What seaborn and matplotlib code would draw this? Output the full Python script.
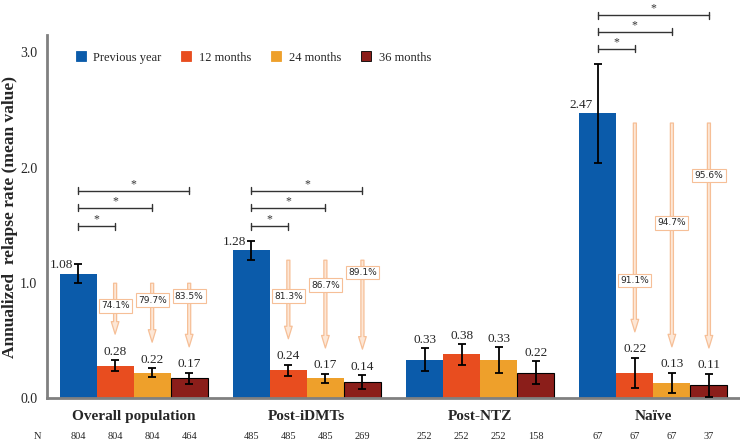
import numpy as np
import pandas as pd
import matplotlib
matplotlib.use("Agg")
import matplotlib.pyplot as plt
import seaborn as sns
from matplotlib.lines import Line2D

# ---------------- data ----------------
groups = ["Overall population", "Post-iDMTs", "Post-NTZ", "Naïve"]
periods = ["Previous year", "12 months", "24 months", "36 months"]
prev_year = [1.08, 1.28, 0.33, 2.47]
m12 = [0.28, 0.24, 0.38, 0.22]
m24 = [0.22, 0.17, 0.33, 0.13]
m36 = [0.17, 0.14, 0.22, 0.11]
err_prev = [0.08, 0.08, 0.10, 0.43]
err_12 = [0.05, 0.05, 0.09, 0.13]
err_24 = [0.04, 0.04, 0.11, 0.09]
err_36 = [0.05, 0.06, 0.10, 0.10]
n_prev = [804, 485, 252, 67]
n_12 = [804, 485, 252, 67]
n_24 = [804, 485, 252, 67]
n_36 = [464, 269, 158, 37]
reduction = {  # % reduction vs previous year (12, 24, 36 months)
    "Overall population": ["74.1%", "79.7%", "83.5%"],
    "Post-iDMTs": ["81.3%", "86.7%", "89.1%"],
    "Naïve": ["91.1%", "94.7%", "95.6%"],
}
sig_groups = ["Overall population", "Post-iDMTs", "Naïve"]

# ---------------- layout (not data) ----------------
label_y = {
    "Overall population": [0.80, 0.85, 0.885],
    "Post-iDMTs": [0.885, 0.98, 1.09],
    "Naïve": [1.02, 1.52, 1.93],
}
bracket_y = {
    "Overall population": [1.49, 1.65, 1.80],
    "Post-iDMTs": [1.49, 1.65, 1.80],
    "Naïve": [3.03, 3.18, 3.32],
}

colors = ["#0B5BAA", "#E84D1F", "#EEA02B", "#8B1E1A"]
serif = ["Liberation Serif", "DejaVu Serif"]

values = [prev_year, m12, m24, m36]
errs = [err_prev, err_12, err_24, err_36]
ns = [n_prev, n_12, n_24, n_36]

rows = []
for p, vals in zip(periods, values):
    for g, v in zip(groups, vals):
        rows.append({"group": g, "period": p, "value": v})
df = pd.DataFrame(rows)

sns.set_style("white")
plt.rcParams["font.family"] = serif

fig = plt.figure(figsize=(7.4, 4.43), dpi=100)
ax = fig.add_axes([47 / 740, 45 / 443, 693 / 740, 363 / 443])

sns.barplot(data=df, x="group", y="value", hue="period", order=groups,
            hue_order=periods, palette=colors, width=0.855, errorbar=None,
            saturation=1, ax=ax, legend=False, linewidth=0)

# edges: dark red bars have black edges
for bar in ax.containers[3]:
    bar.set_edgecolor("black")
    bar.set_linewidth(0.8)

ax.set_xlim(-0.5, 3.5)
ax.set_ylim(0, 3.15)

centers = [[b.get_x() + b.get_width() / 2 for b in c] for c in ax.containers]

# error bars & value labels
for k in range(4):
    for i, g in enumerate(groups):
        x = centers[k][i]
        v = values[k][i]
        e = errs[k][i]
        ax.errorbar(x, v, yerr=e, fmt="none", ecolor="black", elinewidth=1.3,
                    capsize=3, capthick=1.3, zorder=5)
        if k == 0 and g in sig_groups:
            ax.text(x - 0.03, v + 0.07, f"{v:.2f}", ha="right", va="center",
                    fontsize=9.5, family=serif)
        else:
            ax.text(x, v + e + 0.02, f"{v:.2f}", ha="center", va="bottom",
                    fontsize=9.5, family=serif)

# reduction arrows and labels
for i, g in enumerate(groups):
    if g not in reduction:
        continue
    start = prev_year[i] - 0.06
    for k in range(1, 4):
        x = centers[k][i]
        end = values[k][i] + errs[k][i] + 0.2
        ax.annotate("", xy=(x, end), xytext=(x, start),
                    arrowprops=dict(arrowstyle="simple,head_width=0.55,head_length=0.9,tail_width=0.22",
                                    fc="#FDE7D6", ec="#F6BF97", lw=0.9),
                    zorder=3)
        ax.text(x, label_y[g][k - 1], reduction[g][k - 1], ha="center", va="center",
                fontsize=6.5, family=["DejaVu Sans"], zorder=6,
                bbox=dict(boxstyle="square,pad=0.25", fc="white", ec="#F6BF97", lw=0.8))

# significance brackets
for i, g in enumerate(groups):
    if g not in sig_groups:
        continue
    x0 = centers[0][i]
    for k in range(1, 4):
        x1 = centers[k][i]
        y = bracket_y[g][k - 1]
        ax.plot([x0, x1], [y, y], color="#333333", lw=1, clip_on=False)
        for xx in (x0, x1):
            ax.plot([xx, xx], [y - 0.03, y + 0.03], color="#333333", lw=1, clip_on=False)
        ax.text((x0 + x1) / 2, y + 0.005, "*", ha="center", va="bottom",
                fontsize=8.5, family=serif, color="#333333", clip_on=False)

# axes styling
for s in ["top", "right"]:
    ax.spines[s].set_visible(False)
for s in ["left", "bottom"]:
    ax.spines[s].set_color("#808080")
    ax.spines[s].set_linewidth(2)
ax.set_yticks([0, 1, 2, 3])
ax.set_yticklabels(["0.0", "1.0", "2.0", "3.0"], fontsize=10, family=serif)
ax.tick_params(axis="y", direction="out", length=4, width=1, color="#808080", pad=3)
ax.set_xticks([0.5, 1.5, 2.5])
ax.set_xticklabels([])
ax.tick_params(axis="x", direction="out", length=5, width=1, color="#808080")
ax.set_xlabel("")
ax.set_ylabel("Annualized  relapse rate (mean value)", fontsize=12.5,
              fontweight="bold", family=serif, labelpad=1.5)

trans = ax.get_xaxis_transform()
for i, g in enumerate(groups):
    ax.text(i, -0.052, g, transform=trans, ha="center", va="center",
            fontsize=11, fontweight="bold", family=serif)
    for k in range(4):
        ax.text(centers[k][i], -0.107, str(ns[k][i]), transform=trans,
                ha="center", va="center", fontsize=7.5, family=serif)
ax.text(-0.552, -0.107, "N", transform=trans, ha="center", va="center",
        fontsize=7.5, family=serif)

# legend
handles = [Line2D([], [], marker="s", linestyle="none", markersize=7,
                  markerfacecolor=c, markeredgecolor=("black" if j == 3 else c),
                  markeredgewidth=0.6)
           for j, c in enumerate(colors)]
ax.legend(handles, periods, loc="upper left", bbox_to_anchor=(0.025, 0.985),
          ncol=4, frameon=False, prop={"family": serif, "size": 9},
          handlelength=0.8, handletextpad=0.6, columnspacing=1.6)

fig.savefig("out.png", dpi=100)
